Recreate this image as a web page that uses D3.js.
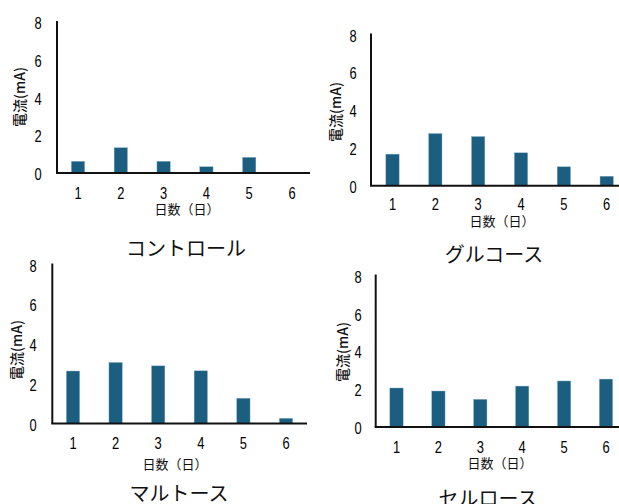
<!DOCTYPE html>
<html><head><meta charset="utf-8">
<script src="https://cdn.jsdelivr.net/npm/d3@7"></script>
<style>body{margin:0;background:#fff}svg{display:block}</style>
</head><body>
<svg id="c" width="619" height="504"></svg>
<script>
const days = [1, 2, 3, 4, 5, 6];
const yTicks = [0, 2, 4, 6, 8];
const control = [0.62, 1.34, 0.62, 0.33, 0.83, 0];
const glucose = [1.67, 2.76, 2.60, 1.74, 1.00, 0.50];
const maltose = [2.64, 3.07, 2.90, 2.65, 1.27, 0.26];
const cellulose = [2.06, 1.90, 1.46, 2.16, 2.43, 2.53];
const titles = ["コントロール", "グルコース", "マルトース", "セルロース"];
const yLabel = "電流(mA)";
const xLabel = "日数（日）";

const series = [control, glucose, maltose, cellulose];
// layout of each panel (positions only)
const layout = [
  {ax:57,   y0:173,   y8:22,    x1:78,    x6:292,   xEnd:310, tl:38,  yl:19,  ylc:97,  dy:193, xt:[187,208], tt:[186,247]},
  {ax:371,  y0:185.7, y8:34.5,  x1:392.5, x6:606.7, xEnd:619, tl:353, yl:335, ylc:112, dy:204, xt:[502,220], tt:[494,253]},
  {ax:52.3, y0:423.5, y8:264.5, x1:73,    x6:286,   xEnd:307, tl:33,  yl:16,  ylc:350, dy:443, xt:[175,463], tt:[179,492]},
  {ax:375.7,y0:427,   y8:275.5, x1:396.5, x6:606,   xEnd:619, tl:358, yl:342, ylc:352, dy:447, xt:[500,462], tt:[488,497]}
];
const svg = d3.select("#c");
const barColor = "#1b5e80";
const numFont = "'Liberation Sans', Arial, sans-serif";
const jpFont = "'Noto Sans CJK JP', sans-serif";

series.forEach((vals, i) => {
  const L = layout[i];
  const g = svg.append("g");
  const y = d3.scaleLinear().domain([0, 8]).range([L.y0, L.y8]);
  const x = d3.scalePoint().domain(days).range([L.x1, L.x6]);
  const bw = 13.3;
  // bars
  g.selectAll("rect.bar").data(vals).join("rect")
    .attr("x", (d, k) => x(days[k]) - bw / 2)
    .attr("y", d => y(d))
    .attr("width", bw)
    .attr("height", d => y(0) - y(d))
    .attr("fill", barColor)
    .attr("stroke", "#7fb0c8").attr("stroke-width", 0.4);
  // y axis line
  g.append("line").attr("x1", L.ax).attr("x2", L.ax).attr("y1", y(8) - 1).attr("y2", y(0))
    .attr("stroke", "#111").attr("stroke-width", 2);
  // x axis line
  g.append("line").attr("x1", L.ax - 1).attr("x2", L.xEnd).attr("y1", y(0)).attr("y2", y(0))
    .attr("stroke", "#111").attr("stroke-width", 2);
  // y tick labels
  g.selectAll("text.yt").data(yTicks).join("text")
    .attr("transform", d => `translate(${L.tl},${y(d) + 1}) scale(0.76,1)`)
    .attr("text-anchor", "middle").attr("dominant-baseline", "central")
    .attr("font-family", numFont).attr("font-size", 17).attr("fill", "#000")
    .text(d => d);
  // x tick labels
  g.selectAll("text.xt").data(days).join("text")
    .attr("transform", d => `translate(${x(d)},${L.dy}) scale(0.76,1)`)
    .attr("text-anchor", "middle").attr("dominant-baseline", "central")
    .attr("font-family", numFont).attr("font-size", 17).attr("fill", "#000")
    .text(d => d);
  // y label
  g.append("text")
    .attr("transform", `translate(${L.yl},${L.ylc}) rotate(-90)`)
    .attr("text-anchor", "middle").attr("dominant-baseline", "central")
    .attr("font-family", jpFont).attr("font-size", 14).attr("font-weight", 500).attr("fill", "#111")
    .text(yLabel);
  // x label
  g.append("text")
    .attr("x", L.xt[0]).attr("y", L.xt[1])
    .attr("text-anchor", "middle").attr("dominant-baseline", "central")
    .attr("font-family", jpFont).attr("font-size", 13).attr("fill", "#111")
    .text(xLabel);
  // title
  g.append("text")
    .attr("x", L.tt[0]).attr("y", L.tt[1])
    .attr("text-anchor", "middle").attr("dominant-baseline", "central")
    .attr("font-family", jpFont).attr("font-size", 20).attr("fill", "#111")
    .text(titles[i]);
});
</script>
</body></html>
